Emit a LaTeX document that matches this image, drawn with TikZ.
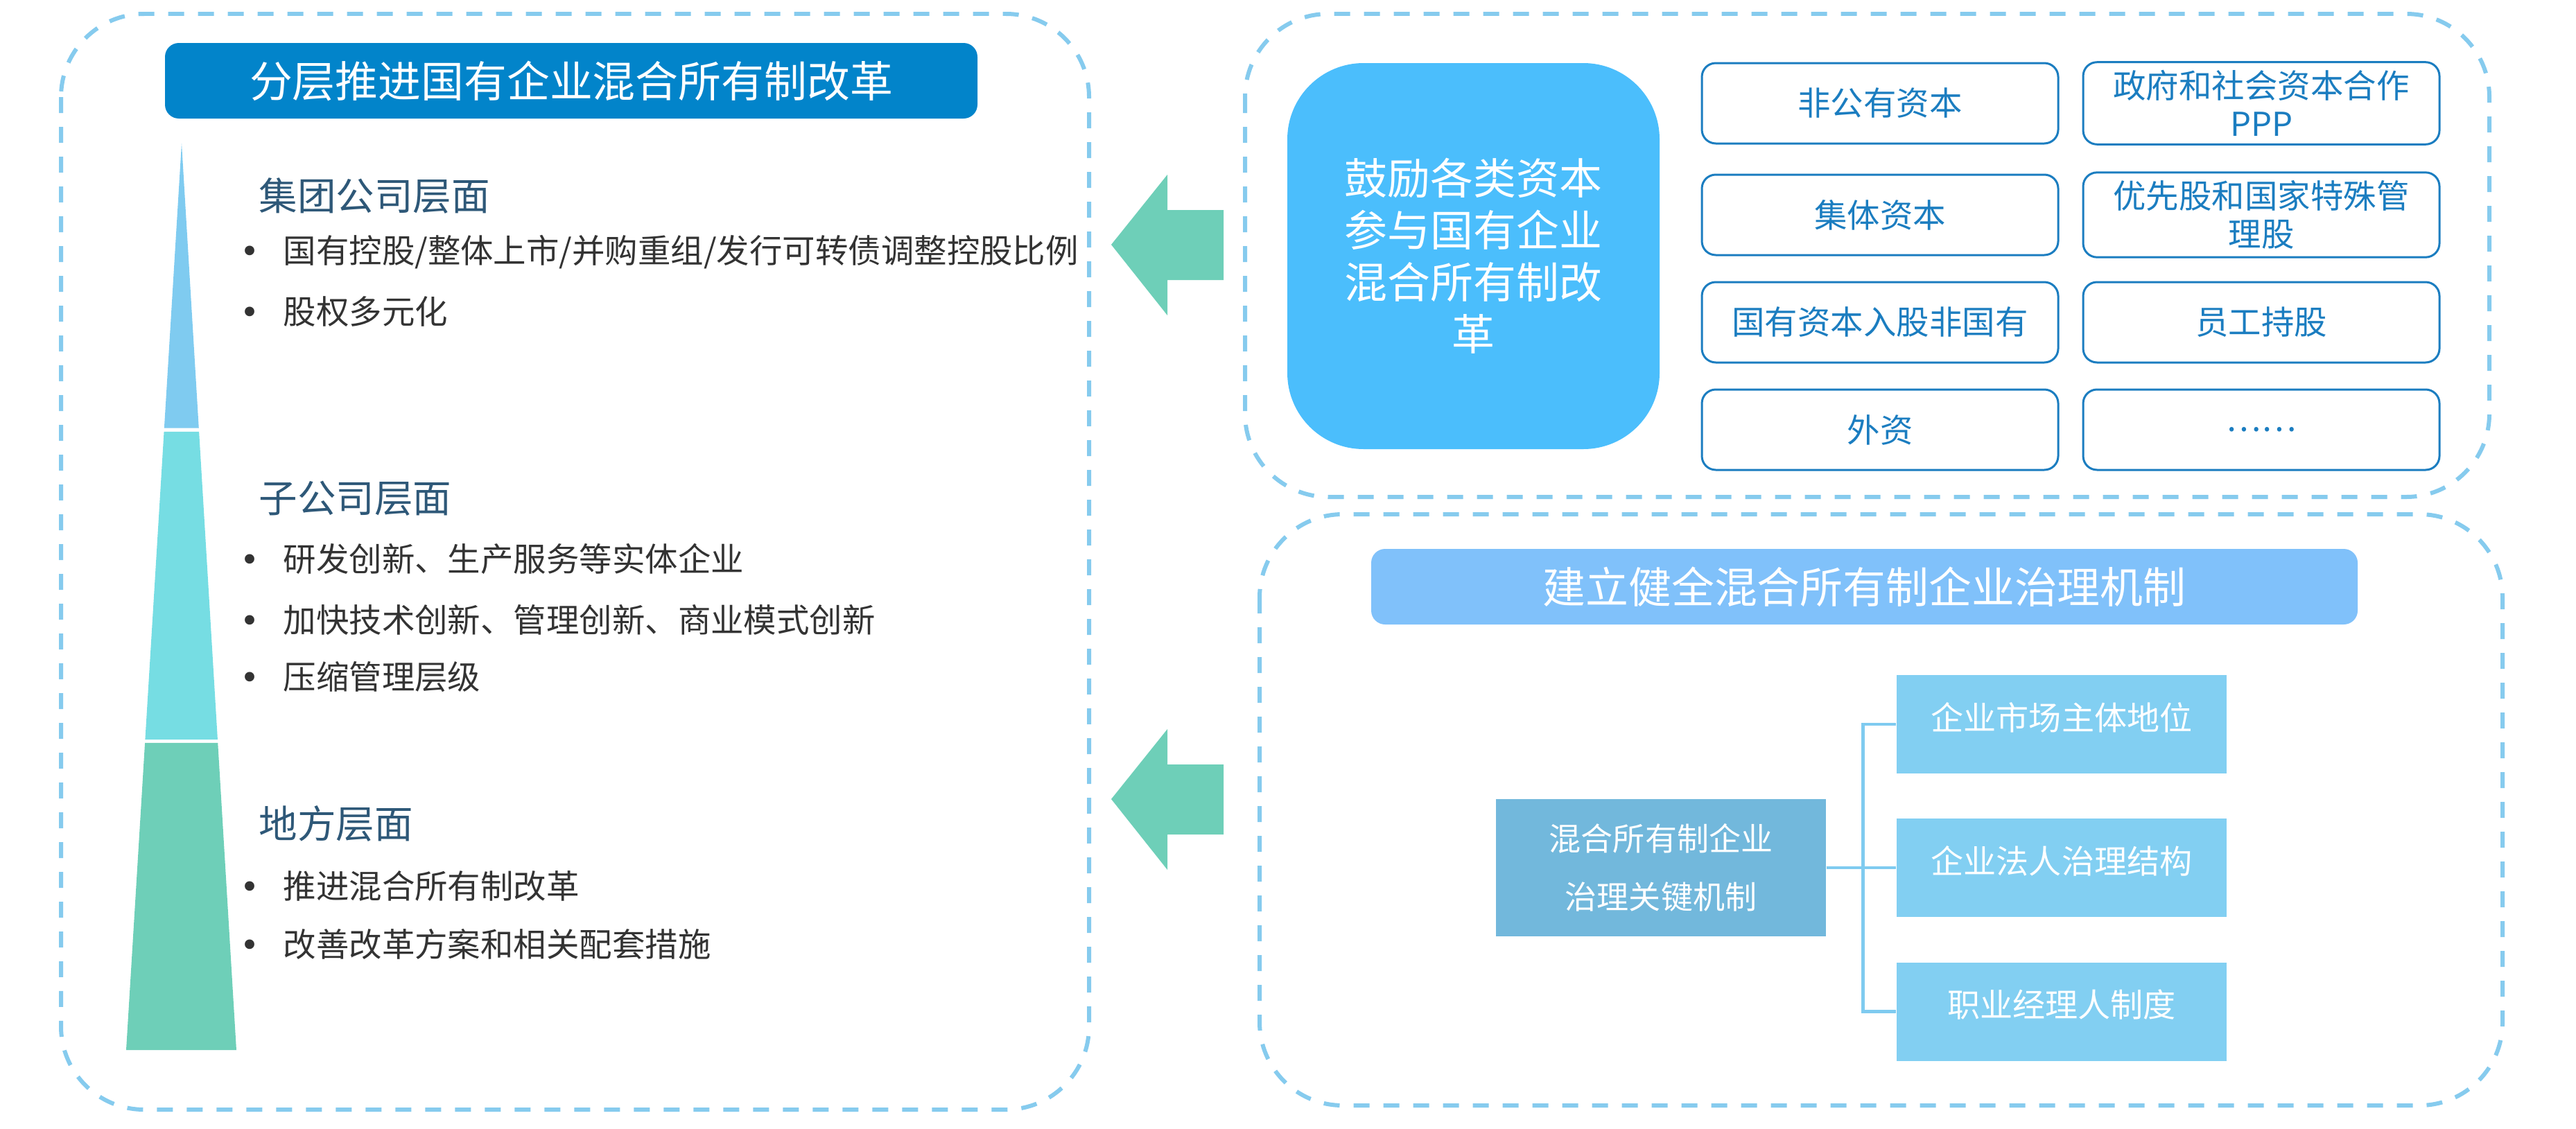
\documentclass[tikz,border=0pt]{standalone}
\usepackage{fontspec}
\setmainfont{Noto Sans CJK SC}
\newfontfamily\dotfont{DejaVu Sans}
\usetikzlibrary{positioning, calc}

\definecolor{zoneblue}{RGB}{134,203,238}
\definecolor{titleblue}{RGB}{2,132,202}
\definecolor{tiertop}{RGB}{127,203,240}
\definecolor{tiermid}{RGB}{118,221,227}
\definecolor{tierlow}{RGB}{110,207,184}
\definecolor{headslate}{RGB}{46,88,120}
\definecolor{itemgray}{RGB}{51,51,51}
\definecolor{capsky}{RGB}{75,190,252}
\definecolor{capline}{RGB}{27,125,192}
\definecolor{barblue}{RGB}{128,193,250}
\definecolor{keyblue}{RGB}{114,184,220}
\definecolor{mechblue}{RGB}{130,207,242}

\newcommand{\tierdot}{\makebox[0.625cm][l]{\dotfont •}}

\tikzset{
  zone/.style={draw=zoneblue, line width=0.06cm, dash pattern=on 0.23cm off 0.2cm, rounded corners=1.2cm},
  banner/.style={rounded corners=0.2cm, text=white, minimum height=1.09cm, font=\fontsize{17.6}{21}\selectfont},
  tierhead/.style={anchor=west, inner sep=0pt, text=headslate, font=\fontsize{15.8}{19}\selectfont},
  tieritem/.style={anchor=west, inner sep=0pt, text=itemgray, font=\fontsize{13.5}{17}\selectfont},
  capbox/.style={draw=capline, line width=0.03cm, rounded corners=0.2cm, text=capline, minimum width=5.14cm, minimum height=1.16cm, align=center, font=\fontsize{13.5}{15.6}\selectfont},
  mechbox/.style={fill=mechblue, text=white, minimum width=4.76cm, minimum height=1.42cm, text height=0.4cm, text depth=0.24cm, font=\fontsize{13.4}{16}\selectfont},
  link/.style={draw=tiertop, line width=0.045cm},
  pushes/.style={fill=tierlow}
}

\begin{document}
\begin{tikzpicture}[y=-1cm]
  \useasboundingbox (0,0) rectangle (37.16,16.28);

  \draw[zone] (0.88,0.20) rectangle (15.71,16.01);
  \draw[zone] (17.96,0.20) rectangle (35.91,7.17);
  \draw[zone] (18.17,7.42) rectangle (36.10,15.95);

  \node[banner, fill=titleblue, minimum width=11.72cm] (tiertitle) at (8.24,1.165) {分层推进国有企业混合所有制改革};

  \coordinate (apex) at (2.62,2.07);
  \coordinate (bl) at (1.82,15.15);
  \coordinate (br) at (3.41,15.15);
  \foreach \from/\to/\col in {0/0.314/tiertop, 0.318/0.6575/tiermid, 0.6613/1/tierlow}
    \fill[\col] ($(apex)!\from!(bl)$) -- ($(apex)!\to!(bl)$) -- ($(apex)!\to!(br)$) -- ($(apex)!\from!(br)$) -- cycle;

  \node[tierhead] (group) at (3.73,2.825) {集团公司层面};
  \node[tieritem] (group1) at (3.455,3.64) {\tierdot 国有控股/整体上市/并购重组/发行可转债调整控股比例};
  \node[tieritem] (group2) at (3.455,4.50) {\tierdot 股权多元化};

  \node[tierhead] (sub) at (3.73,7.19) {子公司层面};
  \node[tieritem] (sub1) at (3.455,8.06) {\tierdot 研发创新、生产服务等实体企业};
  \node[tieritem] (sub2) at (3.455,8.94) {\tierdot 加快技术创新、管理创新、商业模式创新};
  \node[tieritem] (sub3) at (3.455,9.77) {\tierdot 压缩管理层级};

  \node[tierhead] (local) at (3.73,11.88) {地方层面};
  \node[tieritem] (local1) at (3.455,12.78) {\tierdot 推进混合所有制改革};
  \node[tieritem] (local2) at (3.455,13.62) {\tierdot 改善改革方案和相关配套措施};

  \foreach \y in {3.53, 11.53}
    \fill[pushes] (16.03,\y) -- (16.84,\y-1.01) -- (16.84,\y-0.50) -- (17.65,\y-0.50)
      -- (17.65,\y+0.51) -- (16.84,\y+0.51) -- (16.84,\y+1.02) -- cycle;

  \node[fill=capsky, rounded corners=1.1cm, minimum width=5.37cm, minimum height=5.57cm, text=white, align=center, font=\fontsize{17.6}{21.3}\selectfont] (invite) at (21.255,3.695) {鼓励各类资本\\参与国有企业\\混合所有制改\\革};

  \node[capbox] (nonpub) at (27.12,1.49) {非公有资本};
  \node[capbox, right=0.33cm of nonpub] (ppp) {政府和社会资本合作\\PPP};
  \node[capbox, below=0.42cm of nonpub] (collect) {集体资本};
  \node[capbox, right=0.33cm of collect] (pref) {优先股和国家特殊管\\理股};
  \node[capbox, below=0.36cm of collect] (stake) {国有资本入股非国有};
  \node[capbox, right=0.33cm of stake] (esop) {员工持股};
  \node[capbox, below=0.36cm of stake] (foreign) {外资};
  \node[capbox, right=0.33cm of foreign] (more) {……};

  \node[banner, fill=barblue, minimum width=14.23cm] (govbar) at (26.895,8.465) {建立健全混合所有制企业治理机制};
  \node[fill=keyblue, text=white, minimum width=4.76cm, minimum height=1.98cm, align=center, font=\fontsize{13.1}{23.9}\selectfont] (govkey) at (23.96,12.52) {混合所有制企业\\治理关键机制};
  \node[mechbox] (market) at (29.74,10.45) {企业市场主体地位};
  \node[mechbox] (legal) at (29.74,12.52) {企业法人治理结构};
  \node[mechbox] (manager) at (29.74,14.595) {职业经理人制度};
  \foreach \m in {market, legal, manager}
    \draw[link] (govkey.east) -- ++(0.53,0) |- (\m.west);
\end{tikzpicture}
\end{document}
